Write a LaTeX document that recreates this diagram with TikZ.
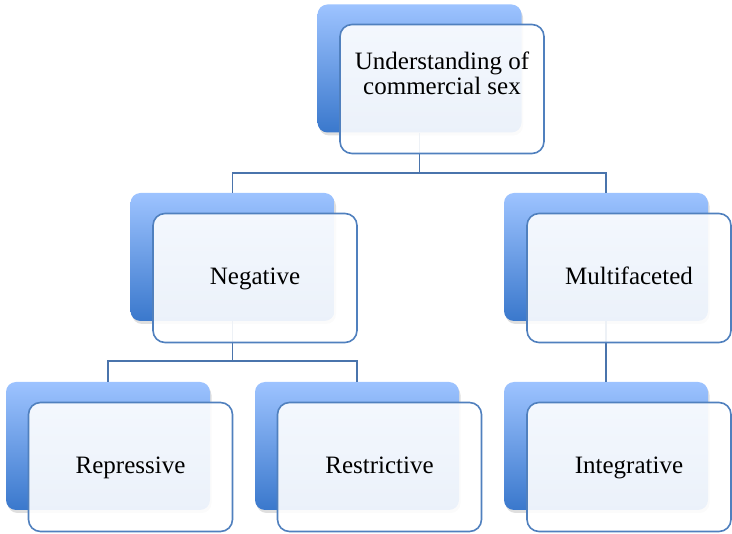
\documentclass[tikz,border=0pt]{standalone}
\usepackage{fontspec}
\setmainfont{Liberation Serif}
\usetikzlibrary{shadows}
\definecolor{backtop}{RGB}{157,195,255}
\definecolor{backbot}{RGB}{58,120,204}
\definecolor{edge}{RGB}{80,128,190}
\definecolor{conn}{RGB}{74,116,172}
\tikzstyle{back}=[rectangle, rounded corners=10pt, minimum width=204pt, minimum height=128pt, inner sep=0pt, top color=backtop, bottom color=backbot, drop shadow={opacity=0.25, shadow xshift=1.5pt, shadow yshift=-3pt}]
\tikzstyle{front}=[rectangle, rounded corners=12pt, minimum width=204pt, minimum height=129pt, inner sep=0pt, text height=17pt, text depth=3pt, draw=edge, line width=1.6pt, fill=white, fill opacity=0.9, text opacity=1]
\tikzstyle{link}=[draw=conn, line width=1.8pt]

\begin{document}
\begin{tikzpicture}[x=1pt, y=-1pt, font=\fontsize{25}{25}\selectfont]
	\useasboundingbox (0,0) rectangle (732,534);
	\node[back] (0) at (419.5, 68.5) {};
	\node[back] (1) at (232.5, 257) {};
	\node[back] (2) at (606, 257) {};
	\node[back] (3) at (108, 446) {};
	\node[back] (4) at (357, 446) {};
	\node[back] (5) at (606, 446) {};
	\draw [link] (0.south) -- ++(0, 40) -| (1.north);
	\draw [link] (0.south) -- ++(0, 40) -| (2.north);
	\draw [link] (1.south) -- ++(0, 40) -| (3.north);
	\draw [link] (1.south) -- ++(0, 40) -| (4.north);
	\draw [link] (2.south) -- (5.north);
	\node[front, label={[yshift=16pt, align=center, text opacity=1]center:Understanding of\\commercial sex}] (0f) at (442, 89) {};
	\node[front] (1f) at (255, 278) {Negative};
	\node[front] (2f) at (629, 278) {Multifaceted};
	\node[front] (3f) at (130.5, 467) {Repressive};
	\node[front] (4f) at (379.5, 467) {Restrictive};
	\node[front] (5f) at (629, 467) {Integrative};
\end{tikzpicture}
\end{document}
